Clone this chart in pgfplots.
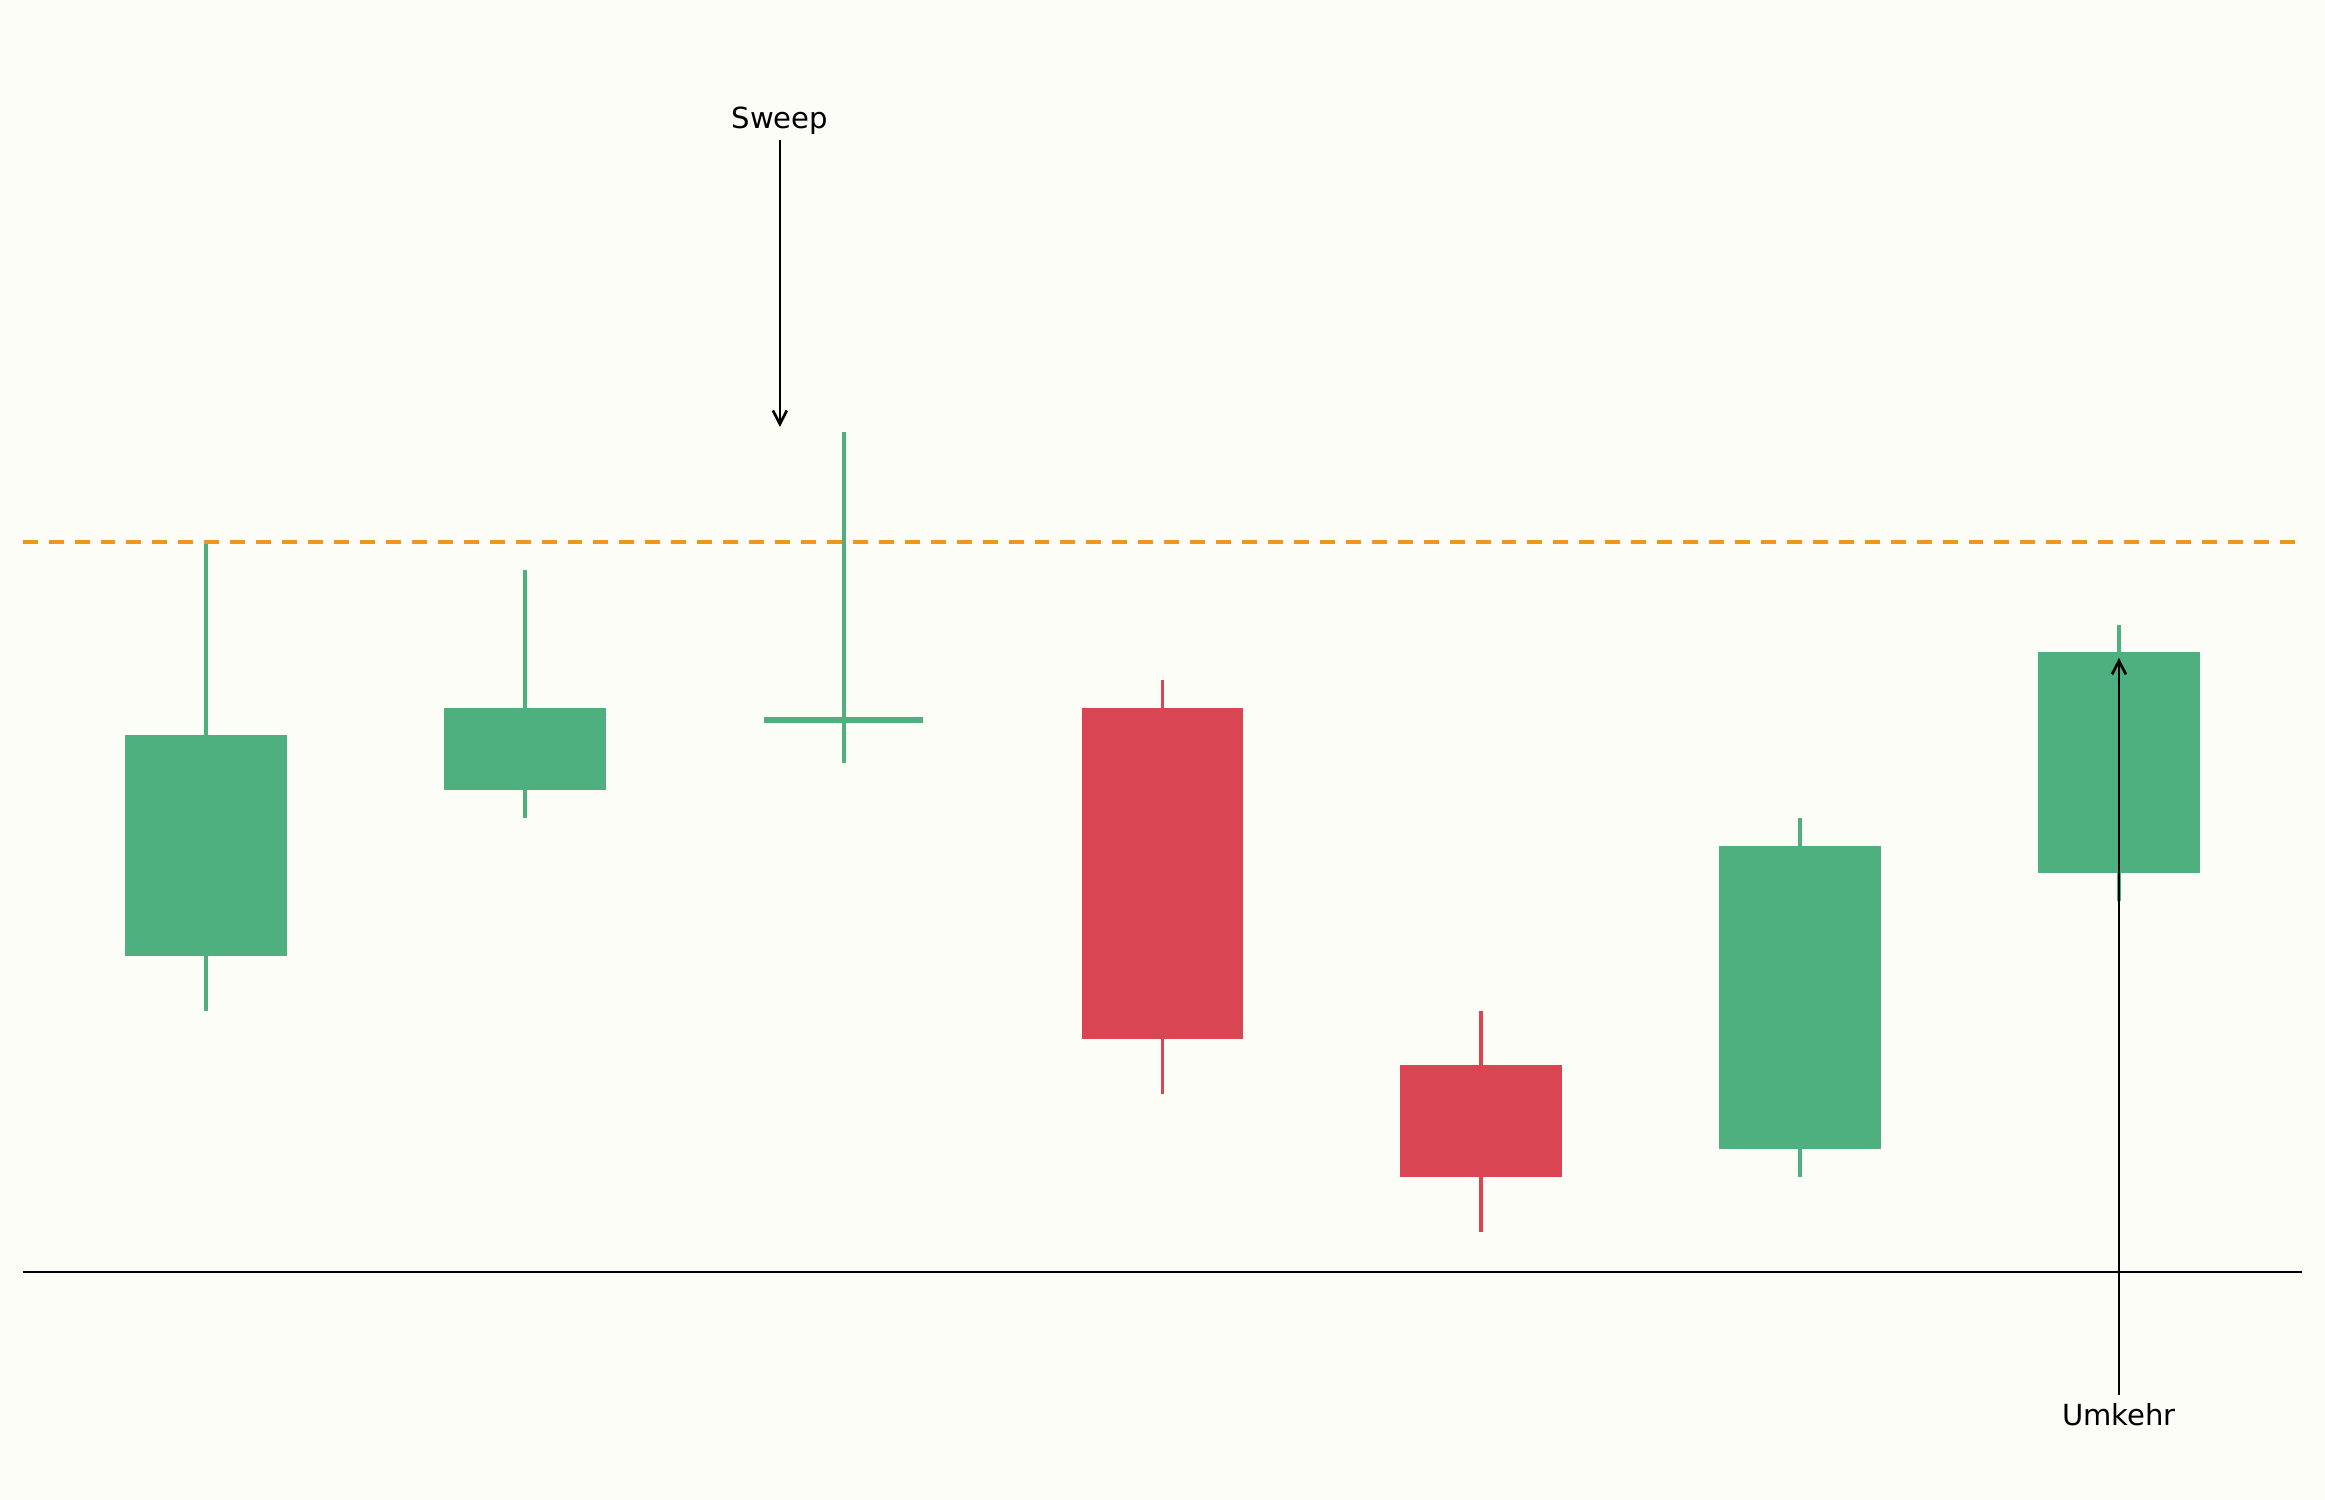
\documentclass[border=0pt]{standalone}
\usepackage{fontspec}
\setmainfont{DejaVu Sans}
\usepackage{pgfplots}
\pgfplotsset{compat=1.18}
\usetikzlibrary{arrows.meta}
\definecolor{bull}{RGB}{78,175,127}
\definecolor{bear}{RGB}{217,69,82}
\definecolor{level}{RGB}{240,150,30}
\definecolor{bg}{RGB}{253,253,247}

\begin{document}
\begin{tikzpicture}
\fill[bg] (0,0) rectangle (15.5in,10in);
\begin{axis}[
    at={(0,0)}, anchor=south west,
    scale only axis, width=15.5in, height=10in,
    hide axis, clip=false,
    xmin=-0.6461, xmax=6.6462,
    ymin=65.29, ymax=119.64,
    every axis plot/.append style={mark=none},
]
% wicks (low -> high)
\addplot[bull, line width=1.9pt] coordinates {(0,83) (0,100)};
\addplot[bull, line width=1.9pt] coordinates {(1,90) (1,99)};
\addplot[bull, line width=1.9pt] coordinates {(2,92) (2,104)};
\addplot[bear, line width=1.9pt] coordinates {(3,80) (3,95)};
\addplot[bear, line width=1.9pt] coordinates {(4,75) (4,83)};
\addplot[bull, line width=1.9pt] coordinates {(5,77) (5,90)};
\addplot[bull, line width=1.9pt] coordinates {(6,87) (6,97)};
% bodies (open -> close)
\addplot[fill=bull, draw=none] coordinates {(-0.254,85) (0.254,85) (0.254,93) (-0.254,93)};
\addplot[fill=bull, draw=none] coordinates {(0.746,91) (1.254,91) (1.254,94) (0.746,94)};
\addplot[fill=bull, draw=none] coordinates {(1.75,93.45) (2.25,93.45) (2.25,93.65) (1.75,93.65)};
\addplot[fill=bear, draw=none] coordinates {(2.746,94) (3.254,94) (3.254,82) (2.746,82)};
\addplot[fill=bear, draw=none] coordinates {(3.746,81.05) (4.254,81.05) (4.254,77) (3.746,77)};
\addplot[fill=bull, draw=none] coordinates {(4.746,78) (5.254,78) (5.254,89) (4.746,89)};
\addplot[fill=bull, draw=none] coordinates {(5.746,88) (6.254,88) (6.254,96) (5.746,96)};
% level and base line
\addplot[level, line width=1.5pt, dash pattern=on 7.2pt off 5.3pt] coordinates {(-0.575,100) (6.575,100)};
\addplot[black, line width=0.9pt] coordinates {(-0.575,73.54) (6.575,73.54)};
% annotations
\draw[line width=1.3pt, -{Straight Barb[length=6.5pt,width=6.7pt]}] (axis cs:1.8,114.56) -- (axis cs:1.8,104.17);
\node[anchor=base, inner sep=0pt, font=\fontsize{14}{17}\selectfont] at (axis cs:1.8,115.0) {Sweep};
\draw[line width=1.3pt, -{Straight Barb[length=6.5pt,width=6.7pt]}] (axis cs:6,69.1) -- (axis cs:6,95.8);
\node[anchor=base, inner sep=0pt, font=\fontsize{14}{17}\selectfont] at (axis cs:6,67.98) {Umkehr};
\end{axis}
\pgfresetboundingbox
\path[use as bounding box] (0,0) rectangle (15.5in,10in);
\end{tikzpicture}
\end{document}
